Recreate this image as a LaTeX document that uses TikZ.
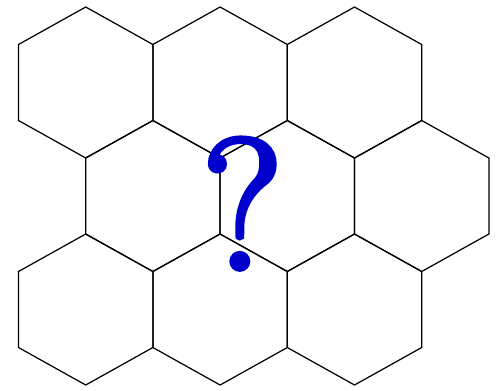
\documentclass[tikz,border=0pt]{standalone}
\usepackage{xcolor}
\usepackage{tikz}
\definecolor{qblue}{RGB}{0,0,204}
% thicken a glyph by stroking its outline as well
\newcommand{\heavyglyph}[1]{%
  \special{pdf:literal direct 2 Tr 3.2 w}#1\special{pdf:literal direct 0 Tr}}

\begin{document}
\begin{tikzpicture}[
  x=0.02cm, y=-0.02cm,
  % --- styles ---
  hexline/.style={draw=black, line width=0.7pt, line join=miter},
  qmark/.style={text=qblue, inner sep=0pt, anchor=base,
    font=\fontsize{106}{106}\selectfont},
]

% === Layout constants ===
\def\hw{67.2}   % half width of a cell
\def\hr{75.5}   % corner radius
\def\hs{38}     % half side

\useasboundingbox (0,0) rectangle (500,390);

% ---------- cells, rows 1 and 3 ----------
\foreach \cy in {82.5, 309.5} {
  \foreach \cx in {85.7, 220.1, 354.5} {
    \draw[hexline] (\cx,\cy-\hr) -- (\cx+\hw,\cy-\hs) -- (\cx+\hw,\cy+\hs)
      -- (\cx,\cy+\hr) -- (\cx-\hw,\cy+\hs) -- (\cx-\hw,\cy-\hs) -- cycle;
  }
}

% ---------- cells, row 2 (shifted right) ----------
\foreach \cx in {152.9, 287.3, 421.7} {
  \draw[hexline] (\cx,196-\hr) -- (\cx+\hw,196-\hs) -- (\cx+\hw,196+\hs)
    -- (\cx,196+\hr) -- (\cx-\hw,196+\hs) -- (\cx-\hw,196-\hs) -- cycle;
}

% ---------- question mark ----------
\node[qmark] (quest) at (242.5,269) {\heavyglyph{?}};

\end{tikzpicture}
\end{document}
